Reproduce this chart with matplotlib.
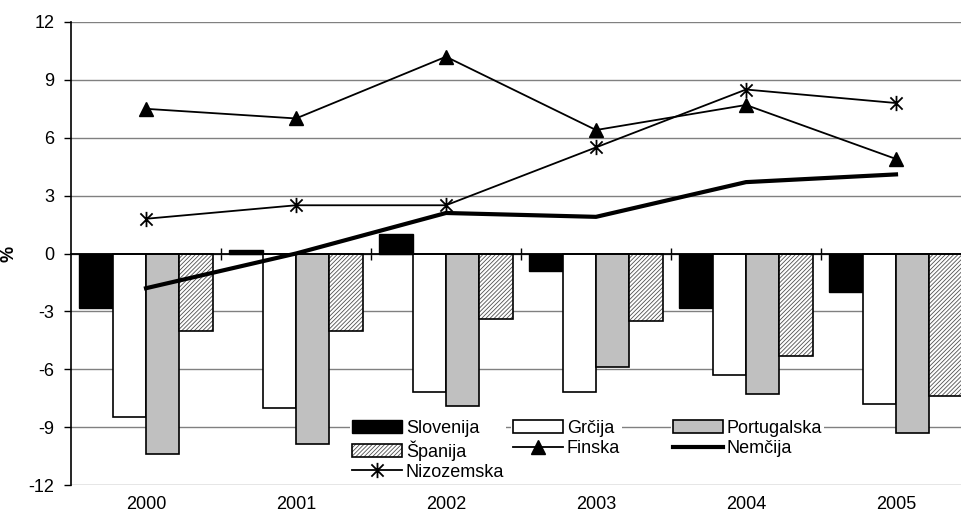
import numpy as np
import matplotlib
matplotlib.use('Agg')
import matplotlib.pyplot as plt
from matplotlib.path import Path

years = ['2000', '2001', '2002', '2003', '2004', '2005']

slovenija = [-2.8, 0.2, 1.0, -0.9, -2.8, -2.0]
grcija = [-8.5, -8.0, -7.2, -7.2, -6.3, -7.8]
portugalska = [-10.4, -9.9, -7.9, -5.9, -7.3, -9.3]
spanija = [-4.0, -4.0, -3.4, -3.5, -5.3, -7.4]
finska = [7.5, 7.0, 10.2, 6.4, 7.7, 4.9]
nemcija = [-1.8, 0.0, 2.1, 1.9, 3.7, 4.1]
nizozemska = [1.8, 2.5, 2.5, 5.5, 8.5, 7.8]

yticks = [-12, -9, -6, -3, 0, 3, 6, 9, 12]

plt.rcParams['font.family'] = ['Liberation Sans', 'DejaVu Sans']
plt.rcParams['hatch.linewidth'] = 0.6

fig = plt.figure(figsize=(9.62, 5.21), dpi=100)
ax = fig.add_axes([71 / 962, 36 / 521, 900 / 962, 463 / 521])

x = np.arange(len(years))
w = 0.2233

b1 = ax.bar(x - 1.5 * w, slovenija, w, color='black', edgecolor='black', lw=1.0, zorder=2)
b2 = ax.bar(x - 0.5 * w, grcija, w, color='white', edgecolor='black', lw=1.2, zorder=2)
b3 = ax.bar(x + 0.5 * w, portugalska, w, color='#c0c0c0', edgecolor='black', lw=1.2, zorder=2)
b4h = ax.bar(x + 1.5 * w, spanija, w, color='white', edgecolor='#505050', lw=0,
             hatch='////////', zorder=2)
b4 = ax.bar(x + 1.5 * w, spanija, w, fill=False, edgecolor='black', lw=1.2, zorder=2)

# asterisk marker like excel
star = Path([(-1, -1), (1, 1), (-1, 1), (1, -1), (0, -1.25), (0, 1.25)],
            [Path.MOVETO, Path.LINETO, Path.MOVETO, Path.LINETO, Path.MOVETO, Path.LINETO])

l_fin, = ax.plot(x, finska, color='black', lw=1.3, marker='^', ms=10, zorder=4)
l_nem, = ax.plot(x, nemcija, color='black', lw=3.0, zorder=4)
l_niz, = ax.plot(x, nizozemska, color='black', lw=1.3, marker=star, ms=11,
                 mew=1.3, zorder=4)

ax.set_xlim(-0.5, len(years) - 0.5)
ax.set_ylim(-12, 12)
ax.set_yticks(yticks)
ax.set_yticklabels([str(v) for v in yticks], fontsize=13)
ax.tick_params(axis='y', length=5, width=1, pad=7)
ax.yaxis.grid(True, color='#808080', lw=1)
ax.set_axisbelow(True)

for s in ['top', 'right']:
    ax.spines[s].set_visible(False)
ax.spines['left'].set_linewidth(1.2)
ax.spines['bottom'].set_position(('data', 0))
ax.spines['bottom'].set_linewidth(1.3)
ax.spines['bottom'].set_zorder(3)

ax.set_xticks(x[:-1] + 0.5)
ax.set_xticklabels([])
ax.tick_params(axis='x', direction='inout', length=9, width=1)

sec = ax.secondary_xaxis('bottom')
sec.set_xticks(x)
sec.set_xticklabels(years, fontsize=13)
sec.tick_params(length=0, pad=8)
sec.spines['bottom'].set_visible(False)

ax.set_ylabel('%', fontsize=13, fontweight='bold')
ax.yaxis.set_label_coords(-0.06, 0.5)

kw = dict(loc='upper left', fontsize=13, frameon=True, facecolor='white',
          edgecolor='none', framealpha=1, fancybox=False, borderpad=0.1,
          labelspacing=0.18, handlelength=2.8, handletextpad=0.2, numpoints=1,
          borderaxespad=0)
top = 1 - 418 / 521
leg1 = fig.legend([b1, (b4h, b4), l_niz], ['Slovenija', 'Španija', 'Nizozemska'],
                  bbox_to_anchor=(350 / 962, top), **kw)
leg2 = fig.legend([b2, l_fin], ['Grčija', 'Finska'],
                  bbox_to_anchor=(511 / 962, top), **kw)
leg3 = fig.legend([b3, l_nem], ['Portugalska', 'Nemčija'],
                  bbox_to_anchor=(671 / 962, top), **kw)

fig.savefig('out.png', dpi=100)
